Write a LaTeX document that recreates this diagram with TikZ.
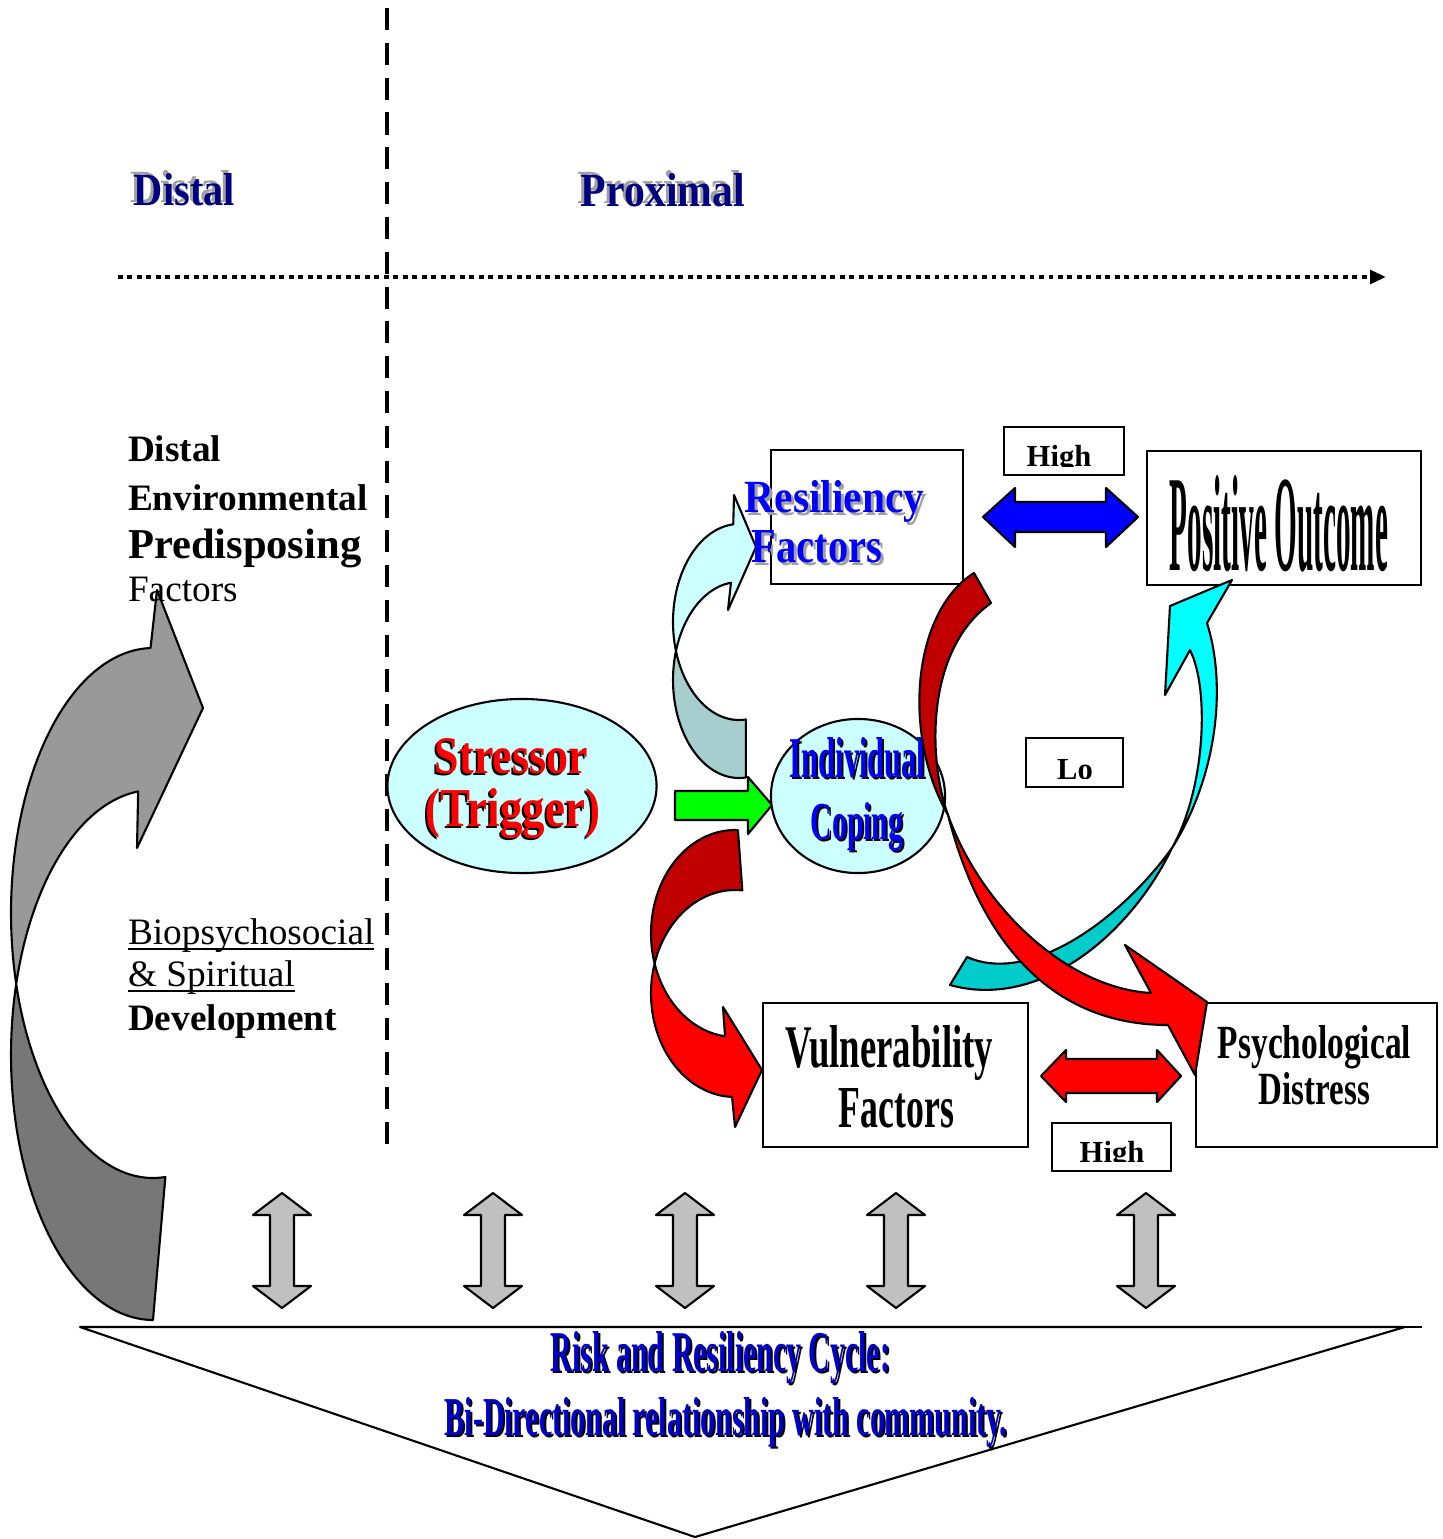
\documentclass[tikz,border=0pt]{standalone}
\usepackage{fontspec}
\setmainfont{Liberation Serif}
\usepackage{graphicx}
\usetikzlibrary{shapes.geometric,arrows.meta}
\definecolor{navyc}{RGB}{0,0,128}
\definecolor{lcyan}{RGB}{204,255,255}
\definecolor{gcyan}{RGB}{166,206,206}
\definecolor{dred}{RGB}{192,0,0}
\definecolor{dcyan}{RGB}{0,204,204}
\definecolor{bcyan}{RGB}{0,255,255}
\definecolor{lgray}{RGB}{153,153,153}
\definecolor{dgray}{RGB}{119,119,119}
\definecolor{sgray}{RGB}{192,192,192}
\definecolor{shgray}{RGB}{160,160,160}
\definecolor{bluet}{RGB}{0,0,204}
\definecolor{pblue}{RGB}{0,0,255}
\definecolor{pred}{RGB}{255,0,0}
\definecolor{pgreen}{RGB}{0,255,0}
\newcommand\rsz[3]{\resizebox{#1cm}{#2cm}{#3}}
\begin{document}
\begin{tikzpicture}[x=0.01cm,y=-0.01cm,
  shp/.style={draw=black,line width=0.6pt,line join=round},
  box/.style={draw=black,line width=0.6pt,fill=white,rectangle,inner sep=0pt},
  tb/.style={inner sep=0pt,outer sep=0pt,anchor=base},
  tw/.style={inner sep=0pt,outer sep=0pt,anchor=base west,font=\fontsize{10.6}{12}\selectfont},
  hi/.style={inner sep=0pt,outer sep=0pt,anchor=base,font=\fontsize{8.7}{10}\selectfont\bfseries},
  uline/.style={line width=0.45pt},
  gar/.style={shp,fill=sgray}]
\useasboundingbox (0,0) rectangle (1442,1539);
\fill[white] (0,0) rectangle (1442,1539);

% axes
\coordinate (vtop) at (387,8);
\coordinate (vbot) at (387,1152);
\draw[line width=1.4pt,dash pattern=on 6.3pt off 3.6pt] (vtop) -- (vbot);
\coordinate (hl) at (118,277);
\coordinate (hr) at (1386,277);
\draw[line width=1.3pt,dash pattern=on 1.4pt off 1.3pt,-{Triangle[length=4.5pt,width=3.8pt]}] (hl) -- (hr);

% headings
\node[tb,text=shgray] (distalS) at (181.5,202) {\rsz{1.01}{0.32}{\bfseries Distal}};
\node[tb,text=navyc] (distalH) at (184.5,205) {\rsz{1.01}{0.32}{\bfseries Distal}};
\node[tb,text=shgray] (proxS) at (660,203) {\rsz{1.64}{0.33}{\bfseries Proximal}};
\node[tb,text=navyc] (proxH) at (663,206) {\rsz{1.64}{0.33}{\bfseries Proximal}};

% gray big curved arrow
\path[shp,fill=dgray] plot[domain=164.46:85,samples=50,variable=\a] ({153+142*cos(\a)},{913+265*sin(\a)})
  -- plot[domain=90:195.54,samples=50,variable=\a] ({153+142*cos(\a)},{1055+265*sin(\a)}) -- cycle;
\path[shp,fill=lgray] plot[domain=269:164.46,samples=50,variable=\a] ({153+142*cos(\a)},{913+265*sin(\a)})
  -- plot[domain=195.54:264,samples=50,variable=\a] ({153+142*cos(\a)},{1055+265*sin(\a)})
  -- (137,848) -- (203,708) -- (157,590) -- cycle;

% left texts
\node[tw,font=\fontsize{10.6}{12}\selectfont\bfseries] (l1) at (128,461) {Distal};
\node[tw,font=\fontsize{10.6}{12}\selectfont\bfseries] (l2) at (128,510) {Environmental};
\node[tw,font=\fontsize{12.1}{14}\selectfont\bfseries] (l3) at (128,558) {Predisposing};
\node[tw] (l4) at (128,601) {Factors};
\node[tw] (l5) at (128,944) {Biopsychosocial};
\node[tw] (l6) at (128,986) {\& Spiritual};
\node[tw,font=\fontsize{10.6}{12}\selectfont\bfseries] (l7) at (128,1030) {Development};
\draw[uline] ([yshift=-1.5pt]l5.base west) -- ([yshift=-1.5pt]l5.base east);
\draw[uline] ([yshift=-1.5pt]l6.base west) -- ([yshift=-1.5pt]l6.base east);

% stressor
\node[ellipse,draw,line width=0.6pt,fill=lcyan,minimum width=2.69cm,minimum height=1.74cm,inner sep=0pt] (stressor) at (522,786) {};
\node[tb,text=black] (st1S) at (509.5,775) {\rsz{1.53}{0.35}{\bfseries Stressor}};
\node[tb,text=pred] (st1) at (511.5,773) {\rsz{1.53}{0.35}{\bfseries Stressor}};
\node[tb,text=black] (st2S) at (511,828) {\rsz{1.74}{0.38}{\bfseries (Trigger)}};
\node[tb,text=pred] (st2) at (513,826) {\rsz{1.74}{0.38}{\bfseries (Trigger)}};

% boxes
\node[box,minimum width=1.92cm,minimum height=1.34cm] (resil) at (867,517) {};
\node[box,minimum width=2.74cm,minimum height=1.34cm] (pos) at (1284,518) {};
\node[box,minimum width=1.20cm,minimum height=0.48cm] (hightop) at (1064,451) {};
\node[box,minimum width=0.97cm,minimum height=0.49cm] (lo) at (1074.5,762.5) {};
\node[box,minimum width=2.65cm,minimum height=1.44cm] (vul) at (895.5,1075) {};
\node[box,minimum width=2.41cm,minimum height=1.44cm] (psy) at (1316.5,1075) {};
\node[box,minimum width=1.19cm,minimum height=0.48cm] (highbot) at (1111.5,1147) {};

\begin{scope}
\clip (1004,427) rectangle (1124,466);
\node[hi] (hightopT) at (1059,466) {High};
\end{scope}
\begin{scope}
\clip (1026,738) rectangle (1123,778);
\node[hi] (loT) at (1075,779) {Lo};
\end{scope}
\begin{scope}
\clip (1052,1123) rectangle (1171,1161);
\node[hi] (highbotT) at (1112,1162) {High};
\end{scope}

% light cyan curved arrow (coping -> resiliency)
\path[shp,fill=gcyan] plot[domain=162.79:84,samples=40,variable=\a] ({739+66*cos(\a)},{622+98*sin(\a)})
  -- plot[domain=84:197.21,samples=40,variable=\a] ({739+66*cos(\a)},{680+98*sin(\a)}) -- cycle;
\path[shp,fill=lcyan] plot[domain=265:162.79,samples=40,variable=\a] ({739+66*cos(\a)},{622+98*sin(\a)})
  -- plot[domain=197.21:263,samples=40,variable=\a] ({739+66*cos(\a)},{680+98*sin(\a)})
  -- (728,610) -- (756,547) -- (734,495) -- cycle;

% dark red / red curved arrow (coping -> vulnerability)
\path[shp,fill=dred] plot[domain=272:163.15,samples=40,variable=\a] ({735+84*cos(\a)},{933.5+103.5*sin(\a)})
  -- plot[domain=196.85:275,samples=40,variable=\a] ({735+84*cos(\a)},{993.5+103.5*sin(\a)}) -- cycle;
\path[shp,fill=pred] plot[domain=163.15:96.8,samples=40,variable=\a] ({735+84*cos(\a)},{933.5+103.5*sin(\a)})
  -- (723,1007) -- (762,1070) -- (735,1127)
  -- plot[domain=92:196.85,samples=40,variable=\a] ({735+84*cos(\a)},{993.5+103.5*sin(\a)}) -- cycle;

% green arrow
\path[shp,fill=pgreen] (675,791) -- (748,791) -- (748,777) -- (772,805) -- (748,834) -- (748,820) -- (675,820) -- cycle;

% coping
\node[ellipse,draw,line width=0.6pt,fill=lcyan,minimum width=1.74cm,minimum height=1.54cm,inner sep=0pt] (coping) at (858,796) {};
\node[tb,text=black] (cp1S) at (859.5,779) {\rsz{1.35}{0.40}{\bfseries Individual}};
\node[tb,text=pblue] (cp1) at (857.5,777) {\rsz{1.35}{0.40}{\bfseries Individual}};
\node[tb,text=black] (cp2S) at (859,841) {\rsz{0.92}{0.37}{\bfseries Coping}};
\node[tb,text=pblue] (cp2) at (857,839) {\rsz{0.92}{0.37}{\bfseries Coping}};

% double arrows
\path[shp,fill=pblue] (983,517) -- (1015,488) -- (1015,502) -- (1106,502) -- (1106,488) -- (1138,517)
  -- (1106,547) -- (1106,532) -- (1015,532) -- (1015,547) -- cycle;
\path[shp,fill=pred] (1041,1076) -- (1066,1050) -- (1066,1059) -- (1157,1059) -- (1157,1050) -- (1181,1076)
  -- (1157,1102) -- (1157,1093) -- (1066,1093) -- (1066,1102) -- cycle;

% big cyan arrow
\path[shp,fill=dcyan] (967,957) .. controls (1030,985) and (1120,920) .. (1172,848)
  .. controls (1130,935) and (1040,1010) .. (950,985) -- cycle;
\path[shp,fill=bcyan] (1172,848) .. controls (1215,780) and (1228,690) .. (1207,623)
  -- (1232,580) -- (1170,606) -- (1165,695) -- (1190,650)
  .. controls (1210,690) and (1205,790) .. (1172,848) -- cycle;

% big red arrow
\path[shp,fill=dred] (974,573) .. controls (912,612) and (902,735) .. (948,815)
  .. controls (928,760) and (925,650) .. (991,603) -- cycle;
\path[shp,fill=pred] (948,815) .. controls (980,905) and (1065,988) .. (1151,993)
  -- (1125,945) -- (1207,1002) -- (1195,1075) -- (1168,1025)
  .. controls (1050,1025) and (980,940) .. (948,815) -- cycle;

% box texts
\node[tb,text=shgray] (res1S) at (837.5,515) {\rsz{1.79}{0.32}{\bfseries Resiliency}};
\node[tb,text=pblue] (res1) at (834.5,512) {\rsz{1.79}{0.32}{\bfseries Resiliency}};
\node[tb,text=shgray] (res2S) at (820,565) {\rsz{1.30}{0.32}{\bfseries Factors}};
\node[tb,text=pblue] (res2) at (817,562) {\rsz{1.30}{0.32}{\bfseries Factors}};
\node[tb] (posT) at (1279,570) {\rsz{2.18}{0.95}{\bfseries Positive Outcome}};
\node[tb] (vul1) at (889.5,1067) {\rsz{2.07}{0.42}{\bfseries Vulnerability}};
\node[tb] (vul2) at (896.5,1127) {\rsz{1.15}{0.39}{\bfseries Factors}};
\node[tb] (psy1) at (1314.5,1058) {\rsz{1.93}{0.33}{\bfseries Psychological}};
\node[tb] (psy2) at (1314.5,1104) {\rsz{1.11}{0.32}{\bfseries Distress}};

% bottom vertical double arrows
\foreach \cx in {282,493,685,896,1146}{
  \path[gar] (\cx,1193) -- ++(29,22) -- ++(-17,0) -- ++(0,71) -- ++(17,0) -- ++(-29,22)
    -- ++(-29,-22) -- ++(17,0) -- ++(0,-71) -- ++(-17,0) -- cycle;
}

% bottom triangle
\coordinate (tl) at (80,1327);
\coordinate (tr) at (1405,1327);
\coordinate (tbot) at (695,1537);
\coordinate (tx) at (1422,1327);
\path[shp,fill=white] (tl) -- (tr) -- (tbot) -- cycle;
\draw[line width=0.6pt] (tr) -- (tx);
\node[tb,text=black] (risk1S) at (722.5,1373) {\rsz{3.39}{0.40}{\bfseries Risk and Resiliency Cycle:}};
\node[tb,text=bluet] (risk1) at (720.5,1371) {\rsz{3.39}{0.40}{\bfseries Risk and Resiliency Cycle:}};
\node[tb,text=black] (risk2S) at (728,1437) {\rsz{5.62}{0.38}{\bfseries Bi-Directional relationship with community.}};
\node[tb,text=bluet] (risk2) at (726,1435) {\rsz{5.62}{0.38}{\bfseries Bi-Directional relationship with community.}};
\end{tikzpicture}
\end{document}
